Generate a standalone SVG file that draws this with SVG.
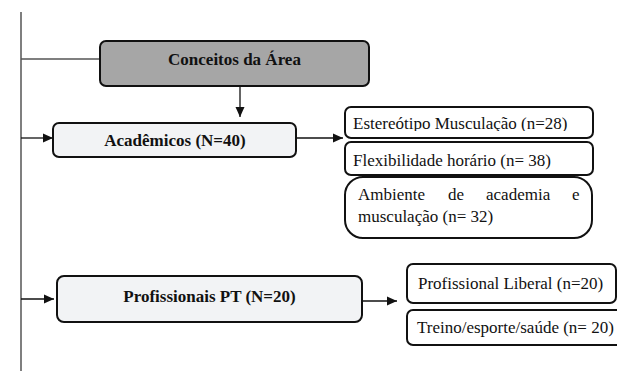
<svg xmlns="http://www.w3.org/2000/svg" width="617" height="371" viewBox="0 0 617 371">
<style>
.box{stroke:#111;stroke-width:2}
.light{fill:#f2f3f5}
.white{fill:#fff}
.grey{fill:#a6a6a6}
.line{stroke:#111;stroke-width:1.3;fill:none}
.trunk{stroke:#555;stroke-width:1.5;fill:none}
text{font-family:'Liberation Serif','Times New Roman',serif;fill:#111;font-size:17px}
.b{font-weight:bold}
</style>
<defs>
<marker id="ah" viewBox="0 0 10 10" refX="10" refY="5" markerWidth="10" markerHeight="10" markerUnits="userSpaceOnUse" orient="auto">
<path d="M0,0.5 L10,5 L0,9.5 z" fill="#111"/>
</marker>
<clipPath id="c1"><rect x="345" y="107" width="248" height="24"/></clipPath>
</defs>
<g id="connectors">
<path class="trunk" d="M21,12 V371"/>
<path class="trunk" d="M21,59 H100"/>
<path class="line" d="M21,138 H53" marker-end="url(#ah)"/>
<path class="line" d="M21,299 H54" marker-end="url(#ah)"/>
<path class="line" d="M240,86 V117" marker-end="url(#ah)"/>
<path class="line" d="M296,138 H343" marker-end="url(#ah)"/>
<path class="line" d="M362,301 H397" marker-end="url(#ah)"/>
</g>
<g id="conceitos">
<rect class="box grey" x="100" y="41" width="269" height="45" rx="6"/>
<text class="b" x="234.5" y="65" text-anchor="middle">Conceitos da Área</text>
</g>
<g id="academicos">
<rect class="box light" x="53" y="123" width="243" height="34" rx="6"/>
<text class="b" x="175" y="146" text-anchor="middle">Acadêmicos (N=40)</text>
</g>
<g id="estereotipo">
<rect class="box white" x="345" y="107" width="248" height="31" rx="6"/>
<text x="353" y="129" clip-path="url(#c1)">Estereótipo Musculação (n=28)</text>
</g>
<g id="flexibilidade">
<rect class="box white" x="345" y="142" width="248" height="33" rx="6"/>
<text x="353" y="166">Flexibilidade horário (n= 38)</text>
</g>
<g id="ambiente">
<rect class="box white" x="345" y="177" width="247" height="61" rx="18"/>
<text y="200"><tspan x="358">Ambiente</tspan><tspan x="448">de</tspan><tspan x="486">academia</tspan><tspan x="572">e</tspan></text>
<text x="358" y="222">musculação (n= 32)</text>
</g>
<g id="profissionais">
<rect class="box light" x="57" y="276" width="305" height="46" rx="7"/>
<text class="b" x="209.5" y="301.5" text-anchor="middle">Profissionais PT (N=20)</text>
</g>
<g id="liberal">
<rect class="box white" x="407" y="264" width="209" height="39" rx="6"/>
<text x="418" y="288.5">Profissional Liberal (n=20)</text>
</g>
<g id="treino">
<rect class="box white" x="407" y="310" width="220" height="35" rx="6"/>
<text x="417" y="333">Treino/esporte/saúde (n= 20)</text>
</g>
</svg>
